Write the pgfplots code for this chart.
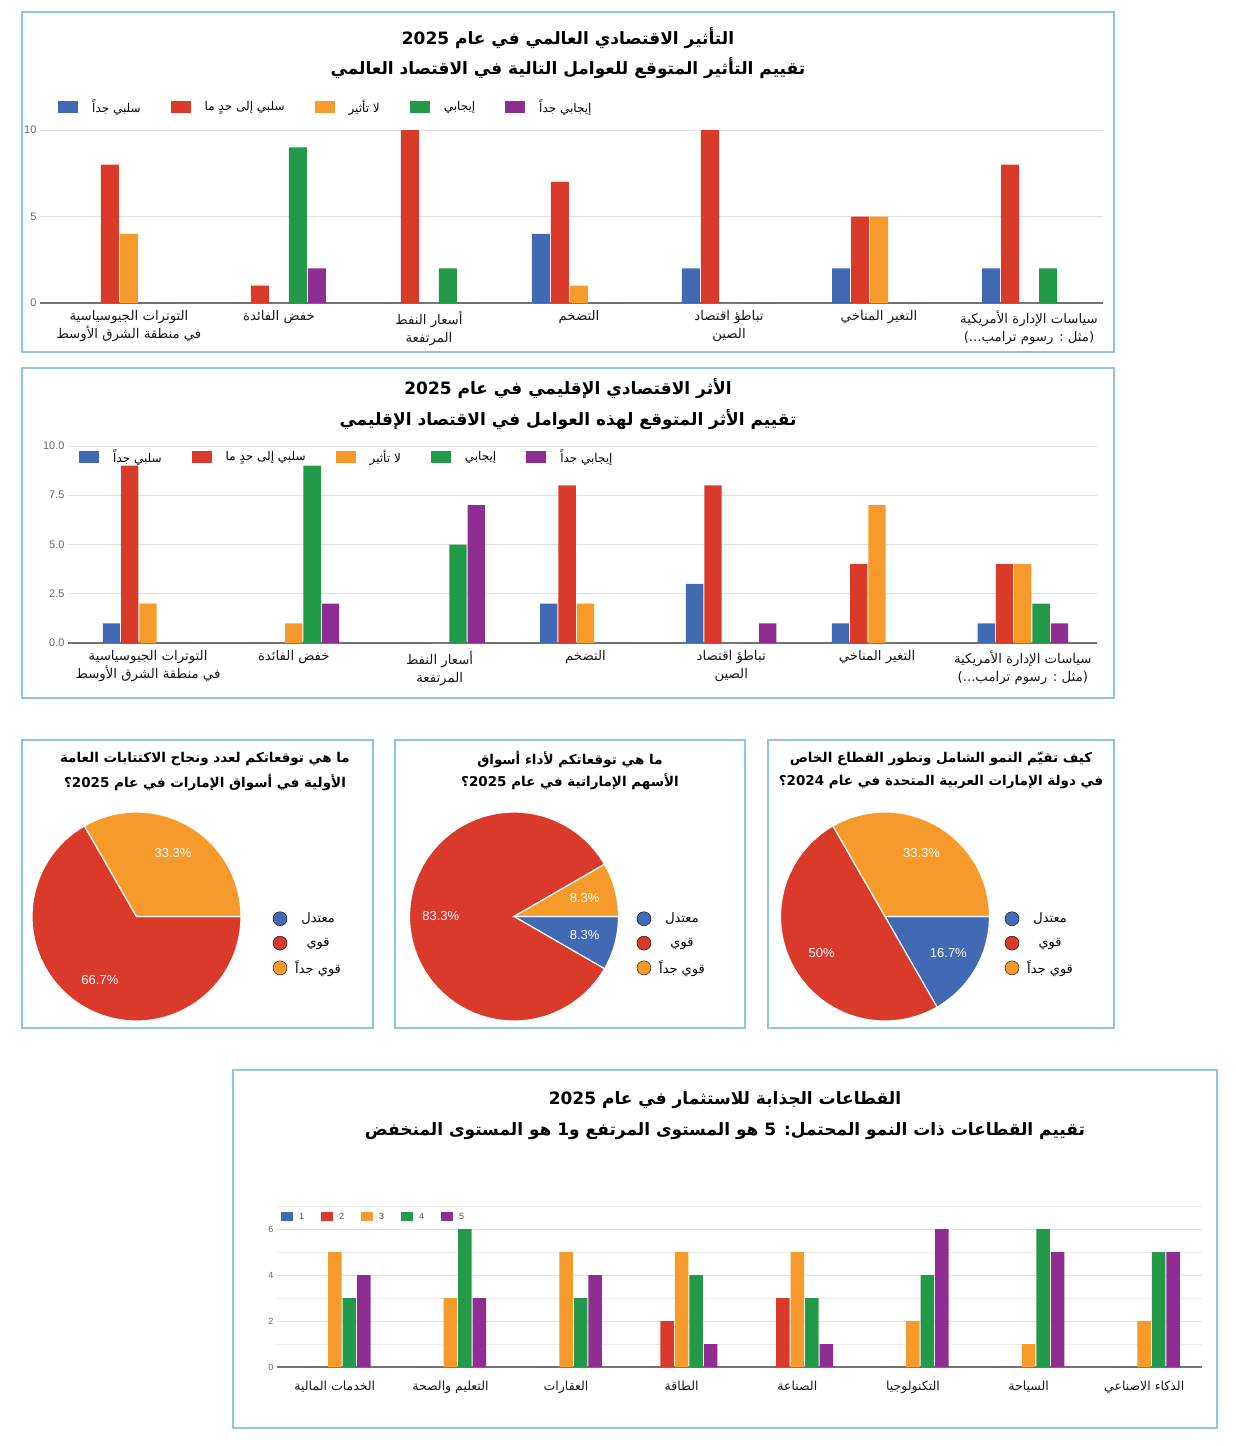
\documentclass[border=0pt]{standalone}
\usepackage{pgfplots}
\pgfplotsset{compat=1.18}
\usepackage{pgfplotstable}
\usepackage{fontspec}
\setmainfont{Liberation Sans}
\newfontfamily\ar[Script=Arabic]{DejaVu Sans}
\TeXXeTstate=1

\definecolor{cBlue}{HTML}{4169B4}
\definecolor{cRed}{HTML}{DA3A2A}
\definecolor{cOrange}{HTML}{F69A2B}
\definecolor{cGreen}{HTML}{23994A}
\definecolor{cPurple}{HTML}{8F2D92}
\definecolor{frameblue}{HTML}{8EC5E2}

% global impact, respondents per answer
\pgfplotstableread{
x vn sn no po vp
0 0 8 4 0 0
1 0 1 0 9 2
2 0 10 0 2 0
3 4 7 1 0 0
4 2 10 0 0 0
5 2 5 5 0 0
6 2 8 0 2 0
}\globaltab

% regional impact
\pgfplotstableread{
x vn sn no po vp
0 1 9 2 0 0
1 0 0 1 9 2
2 0 0 0 5 7
3 2 8 2 0 0
4 3 8 0 0 1
5 1 4 7 0 0
6 1 4 4 2 1
}\regiontab

% sectors, ratings 1..5
\pgfplotstableread{
x r1 r2 r3 r4 r5
0 0 0 5 3 4
1 0 0 3 6 3
2 0 0 5 3 4
3 0 2 5 4 1
4 0 3 5 3 1
5 0 0 2 4 6
6 0 0 1 6 5
7 0 0 2 5 5
}\sectortab

\pgfplotsset{
  sqleg/.style={legend image code/.code={\fill[##1] (0pt,-6pt) rectangle (20pt,6pt);}},
  smallsq/.style={legend image code/.code={\fill[##1] (0pt,-4.5pt) rectangle (12pt,4.5pt);}},
  barpanel/.style={
    scale only axis, anchor=south west,
    ymin=0,
    axis line style={draw=none}, tick style={draw=none},
    ymajorgrids, grid style={black!12, line width=1pt},
    extra y ticks={0}, extra y tick labels={},
    extra y tick style={grid style={black!55, line width=1.2pt}},
    /pgf/number format/assume math mode=true,
    yticklabel style={font=\fontsize{11}{12}\selectfont, text=black!60},
    xticklabel style={align=center, font=\fontsize{13.3}{18}\selectfont, text=black!90},
    legend style={draw=none, fill=none, anchor=west,
      font=\fontsize{12}{14}\selectfont, nodes={inner sep=0pt},
      /tikz/every odd column/.append style={column sep=14pt},
      /tikz/every even column/.append style={column sep=30pt}},
  },
  pie/.style={
    scale only axis, anchor=center, width=209pt, height=209pt,
    xmin=-1, xmax=1, ymin=-1, ymax=1, hide axis, clip=false,
    legend image code/.code={\fill[##1] (7pt,0pt) circle (7pt);},
    legend style={draw=none, fill=none, anchor=west,
      font=\fontsize{13}{15}\selectfont, nodes={inner sep=0pt},
      /tikz/every odd column/.append style={column sep=8pt},
      /tikz/row sep=10pt},
  },
}

\newcommand{\slice}[3]{\addplot[fill=#1, draw=white, line width=1.2pt,
  domain={-3.6*(#3)}:{-3.6*(#2)}, samples=120, forget plot]
  ({cos(x)},{sin(x)}) -- (axis cs:0,0) -- cycle;}
\newcommand{\pielabel}[2]{\node[text=white, font=\fontsize{13}{15}\selectfont]
  at (axis cs:{0.7*cos(#1)},{0.7*sin(#1)}) {#2};}
\newcommand{\pielegend}{%
  \addlegendimage{fill=cBlue}\addlegendentry{{\ar\beginR معتدل\endR}}
  \addlegendimage{fill=cRed}\addlegendentry{{\ar\beginR قوي\endR}}
  \addlegendimage{fill=cOrange}\addlegendentry{{\ar\beginR قوي جداً\endR}}}

\newcommand{\titlefont}{\fontsize{17}{20}\selectfont\bfseries}
\newcommand{\pietitlefont}{\fontsize{13.5}{16}\selectfont\bfseries}

\begin{document}
\begin{tikzpicture}
\useasboundingbox (0,0) rectangle (1236pt,-1446pt);
\fill[white] (0,0) rectangle (1236pt,-1446pt);

\foreach \a/\b/\c/\d in {22/12/1114/352, 22/368/1114/698, 22/740/373/1028,
  395/740/745/1028, 768/740/1114/1028, 233/1070/1217/1428}
  \draw[frameblue, line width=1.3pt] (\a pt,-\b pt) rectangle (\c pt,-\d pt);

% ---------- panel 1 ----------
\node[font=\titlefont] at (568pt,-38pt) {\ar\beginR التأثير الاقتصادي العالمي في عام 2025\endR};
\node[font=\titlefont] at (568pt,-68pt) {\ar\beginR تقييم التأثير المتوقع للعوامل التالية في الاقتصاد العالمي\endR};

\begin{axis}[barpanel,
  at={(40pt,-303pt)}, width=1063pt, height=173pt,
  ybar=1pt, bar width=18pt,
  every axis plot post/.append style={sqleg},
  xmin=-0.593, xmax=6.493, ymax=10,
  ytick={0,5,10},
  xtick={0,...,6},
  xticklabels={
    {{\ar\beginR التوترات الجيوسياسية\endR}\\{\ar\beginR في منطقة الشرق الأوسط\endR}},
    {{\ar\beginR خفض الفائدة\endR}},
    {{\ar\beginR أسعار النفط\endR}\\{\ar\beginR المرتفعة\endR}},
    {{\ar\beginR التضخم\endR}},
    {{\ar\beginR تباطؤ اقتصاد\endR}\\{\ar\beginR الصين\endR}},
    {{\ar\beginR التغير المناخي\endR}},
    {{\ar\beginR سياسات الإدارة الأمريكية\endR}\\{\ar\beginR (مثل : رسوم ترامب...)\endR}}},
  legend columns=5,
  legend style={at={(axis description cs:0.0141,1.133)}},
]
\addplot[fill=cBlue, draw=none] table[x=x, y=vn] {\globaltab};
\addplot[fill=cRed, draw=none] table[x=x, y=sn] {\globaltab};
\addplot[fill=cOrange, draw=none] table[x=x, y=no] {\globaltab};
\addplot[fill=cGreen, draw=none] table[x=x, y=po] {\globaltab};
\addplot[fill=cPurple, draw=none] table[x=x, y=vp] {\globaltab};
\legend{{\ar\beginR سلبي جداً\endR}, {\ar\beginR سلبي إلى حدٍ ما\endR}, {\ar\beginR لا تأثير\endR}, {\ar\beginR إيجابي\endR}, {\ar\beginR إيجابي جداً\endR}}
\end{axis}

% ---------- panel 2 ----------
\node[font=\titlefont] at (568pt,-389pt) {\ar\beginR الأثر الاقتصادي الإقليمي في عام 2025\endR};
\node[font=\titlefont] at (568pt,-420pt) {\ar\beginR تقييم الأثر المتوقع لهذه العوامل في الاقتصاد الإقليمي\endR};

\begin{axis}[barpanel,
  at={(68pt,-643pt)}, width=1029pt, height=197pt,
  ybar=1pt, bar width=17.3pt,
  every axis plot post/.append style={sqleg},
  xmin=-0.549, xmax=6.509, ymax=10,
  ytick={0,2.5,5,7.5,10},
  yticklabel style={/pgf/number format/.cd, fixed, fixed zerofill, precision=1},
  xtick={0,...,6},
  xticklabels={
    {{\ar\beginR التوترات الجيوسياسية\endR}\\{\ar\beginR في منطقة الشرق الأوسط\endR}},
    {{\ar\beginR خفض الفائدة\endR}},
    {{\ar\beginR أسعار النفط\endR}\\{\ar\beginR المرتفعة\endR}},
    {{\ar\beginR التضخم\endR}},
    {{\ar\beginR تباطؤ اقتصاد\endR}\\{\ar\beginR الصين\endR}},
    {{\ar\beginR التغير المناخي\endR}},
    {{\ar\beginR سياسات الإدارة الأمريكية\endR}\\{\ar\beginR (مثل : رسوم ترامب...)\endR}}},
  legend columns=5,
  legend style={at={(axis description cs:0.0078,0.944)}},
]
\addplot[fill=cBlue, draw=none] table[x=x, y=vn] {\regiontab};
\addplot[fill=cRed, draw=none] table[x=x, y=sn] {\regiontab};
\addplot[fill=cOrange, draw=none] table[x=x, y=no] {\regiontab};
\addplot[fill=cGreen, draw=none] table[x=x, y=po] {\regiontab};
\addplot[fill=cPurple, draw=none] table[x=x, y=vp] {\regiontab};
\legend{{\ar\beginR سلبي جداً\endR}, {\ar\beginR سلبي إلى حدٍ ما\endR}, {\ar\beginR لا تأثير\endR}, {\ar\beginR إيجابي\endR}, {\ar\beginR إيجابي جداً\endR}}
\end{axis}

% ---------- pies ----------
\node[font=\pietitlefont] at (205pt,-759pt) {\ar\beginR ما هي توقعاتكم لعدد ونجاح الاكتتابات العامة\endR};
\node[font=\pietitlefont] at (205pt,-782pt) {\ar\beginR الأولية في أسواق الإمارات في عام 2025؟\endR};
\begin{axis}[pie, at={(136.5pt,-916.5pt)},
  legend style={at={(axis description cs:1.137,0.371)}}]
\slice{cRed}{0}{66.7}
\slice{cOrange}{66.7}{100}
\pielabel{60}{33.3\%}
\pielabel{240}{66.7\%}
\pielegend
\end{axis}

\node[font=\pietitlefont] at (570pt,-759pt) {\ar\beginR ما هي توقعاتكم لأداء أسواق\endR};
\node[font=\pietitlefont] at (570pt,-782pt) {\ar\beginR الأسهم الإماراتية في عام 2025؟\endR};
\begin{axis}[pie, at={(514pt,-916.5pt)},
  legend style={at={(axis description cs:1.072,0.371)}}]
\slice{cBlue}{0}{8.33}
\slice{cRed}{8.33}{91.67}
\slice{cOrange}{91.67}{100}
\pielabel{-15}{8.3\%}
\pielabel{180}{83.3\%}
\pielabel{15}{8.3\%}
\pielegend
\end{axis}

\node[font=\pietitlefont] at (941pt,-759pt) {\ar\beginR كيف تقيّم النمو الشامل وتطور القطاع الخاص\endR};
\node[font=\pietitlefont] at (941pt,-782pt) {\ar\beginR في دولة الإمارات العربية المتحدة في عام 2024؟\endR};
\begin{axis}[pie, at={(885pt,-916.5pt)},
  legend style={at={(axis description cs:1.058,0.371)}}]
\slice{cBlue}{0}{16.7}
\slice{cRed}{16.7}{66.7}
\slice{cOrange}{66.7}{100}
\pielabel{-30}{16.7\%}
\pielabel{-150}{50\%}
\pielabel{60}{33.3\%}
\pielegend
\end{axis}

% ---------- sectors ----------
\node[font=\titlefont] at (725pt,-1100pt) {\ar\beginR القطاعات الجذابة للاستثمار في عام 2025\endR};
\node[font=\titlefont] at (725pt,-1131pt) {\ar\beginR تقييم القطاعات ذات النمو المحتمل: 5 هو المستوى المرتفع و1 هو المستوى المنخفض\endR};

\begin{axis}[barpanel,
  at={(277pt,-1367pt)}, width=925pt, height=161pt,
  ybar=1pt, bar width=13.5pt,
  every axis plot post/.append style={smallsq},
  xmin=-0.5, xmax=7.5, ymax=7,
  ytick={0,2,4,6}, minor ytick={1,3,5,7}, yminorgrids,
  minor grid style={black!7, line width=1pt},
  yticklabel style={font=\fontsize{9}{10}\selectfont},
  xtick={0,...,7},
  xticklabels={{\ar\beginR الخدمات المالية\endR}, {\ar\beginR التعليم والصحة\endR}, {\ar\beginR العقارات\endR}, {\ar\beginR الطاقة\endR},
    {\ar\beginR الصناعة\endR}, {\ar\beginR التكنولوجيا\endR}, {\ar\beginR السياحة\endR}, {\ar\beginR الذكاء الاصناعي\endR}},
  xticklabel style={font=\fontsize{12.5}{15}\selectfont, yshift=-6pt},
  legend columns=5,
  legend style={at={(axis description cs:0.001,0.932)}, font=\fontsize{9}{10}\selectfont\color{black!70},
    /tikz/every odd column/.append style={column sep=6pt},
    /tikz/every even column/.append style={column sep=17pt}},
]
\addplot[fill=cBlue, draw=none] table[x=x, y=r1] {\sectortab};
\addplot[fill=cRed, draw=none] table[x=x, y=r2] {\sectortab};
\addplot[fill=cOrange, draw=none] table[x=x, y=r3] {\sectortab};
\addplot[fill=cGreen, draw=none] table[x=x, y=r4] {\sectortab};
\addplot[fill=cPurple, draw=none] table[x=x, y=r5] {\sectortab};
\legend{1,2,3,4,5}
\end{axis}
\end{tikzpicture}
\end{document}
